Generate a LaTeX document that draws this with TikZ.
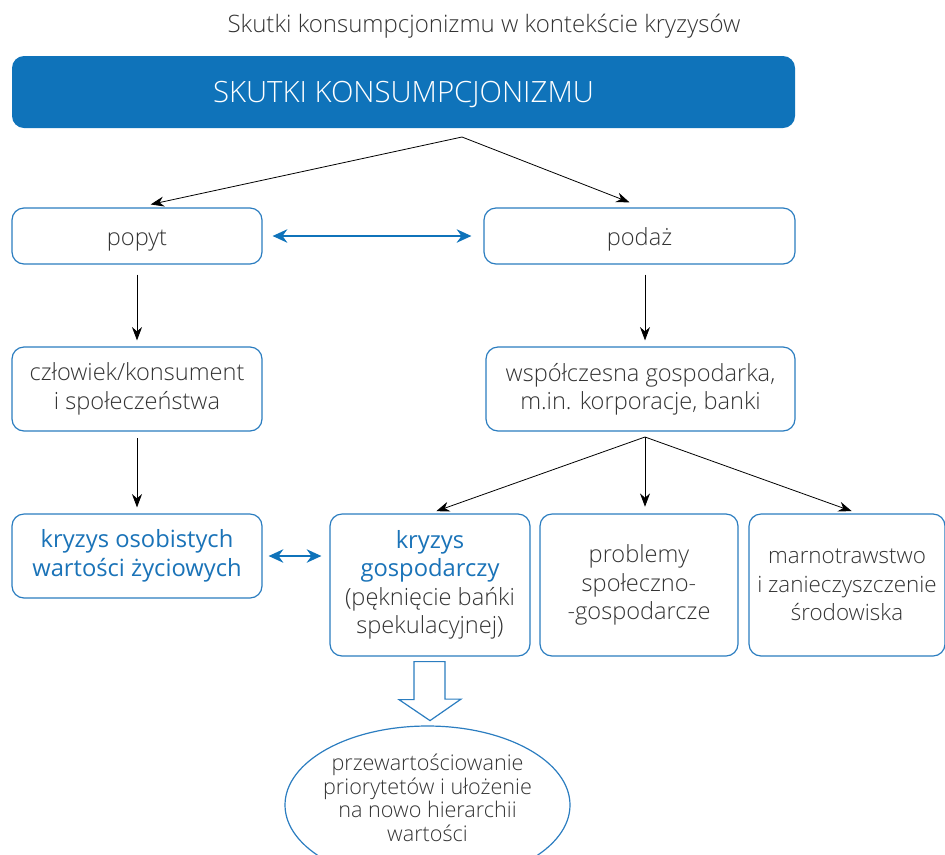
\documentclass[tikz,border=0pt]{standalone}
\usepackage{fontspec}
\setmainfont{Open Sans}
\newfontfamily\lightfont{Open Sans Light}
\usetikzlibrary{arrows.meta,shapes.geometric}
\definecolor{dblue}{HTML}{0F73BA}
\definecolor{bord}{HTML}{2B7DC0}
\definecolor{btext}{HTML}{1A73B8}
\definecolor{txt}{HTML}{333333}
\begin{document}
\begin{tikzpicture}[x=0.75pt,y=-0.75pt,
  box/.style={draw=bord, line width=0.9pt, rounded corners=9pt, fill=white, align=center,
    text=txt, font=\lightfont\fontsize{17.7}{21.3}\selectfont, inner sep=0pt},
  arr/.style={-{Stealth[length=10pt,width=7.5pt]}, line width=0.6pt, draw=black},
  dbl/.style={{Stealth[length=11pt,width=10pt]}-{Stealth[length=11pt,width=10pt]}, line width=1.8pt, draw=dblue}]
\useasboundingbox (0,0) rectangle (945,854);
\clip (0,0) rectangle (945,854);

\node[text=txt, font=\lightfont\fontsize{18}{21}\selectfont] (title) at (484,26) {Skutki konsumpcjonizmu w kontekście kryzysów};

\node[fill=dblue, rounded corners=9pt, minimum width=783*0.75pt, minimum height=72*0.75pt,
  text=white, font=\lightfont\fontsize{22}{26}\selectfont, inner sep=0pt,
  text height=15.7pt, text depth=0pt] (top) at (403.5,92) {SKUTKI KONSUMPCJONIZMU};

\node[box, text height=17pt, text depth=3.5pt, minimum width=250*0.75pt, minimum height=56*0.75pt] (popyt) at (137,236) {popyt};
\node[box, text height=17pt, text depth=3.5pt, minimum width=311*0.75pt, minimum height=56*0.75pt] (podaz) at (639.5,236) {podaż};
\node[box, minimum width=250*0.75pt, minimum height=84*0.75pt] (czl) at (137,389) {człowiek/konsument\\i społeczeństwa};
\node[box, minimum width=309*0.75pt, minimum height=84*0.75pt] (wsp) at (640.5,389) {współczesna gospodarka,\\m.in. korporacje, banki};
\node[box, text=btext, font=\fontsize{17.8}{21.3}\selectfont, minimum width=250*0.75pt, minimum height=84*0.75pt] (kos) at (137,556) {kryzys osobistych\\wartości życiowych};
\node[box, minimum width=200*0.75pt, minimum height=142*0.75pt] (kgos) at (430,585) {{\normalfont\fontsize{17.8}{21.3}\selectfont\textcolor{btext}{kryzys}}\\{\normalfont\fontsize{17.8}{21.3}\selectfont\textcolor{btext}{gospodarczy}}\\(pęknięcie bańki\\spekulacyjnej)};
\node[box, minimum width=198*0.75pt, minimum height=142*0.75pt] (prob) at (639,585) {problemy\\społeczno-\\-gospodarcze};
\node[box, font=\lightfont\fontsize{16.8}{21.3}\selectfont, minimum width=196*0.75pt, minimum height=142*0.75pt] (marn) at (847,585) {marnotrawstwo\\i zanieczyszczenie\\środowiska};

\node[align=center, text=txt, font=\lightfont\fontsize{16.2}{17.6}\selectfont, inner sep=0pt] (ell) at (427.5,798)
  {przewartościowanie\\priorytetów i ułożenie\\na nowo hierarchii\\wartości};
\draw[draw=bord, line width=0.9pt] ([yshift=-7*0.75pt]ell.center) ellipse [x radius=142.5*0.75pt, y radius=79*0.75pt];

% connectors
\coordinate (s1) at (462,137);
\draw[arr, shorten >=10.5pt] (s1) -- (popyt.north);
\draw[arr, shorten >=10.5pt] (s1) -- ([xshift=3*0.75pt]podaz.north);
\draw[dbl, shorten <=7.5pt, shorten >=9pt] (popyt.east) -- (podaz.west);
\draw[arr, shorten <=7.5pt, shorten >=4.5pt] (popyt.south) -- (czl.north);
\draw[arr, shorten <=7.5pt, shorten >=4.5pt] ([xshift=5.5*0.75pt]podaz.south) -- ([xshift=4.5*0.75pt]wsp.north);
\draw[arr, shorten <=5pt, shorten >=4.5pt] (czl.south) -- (kos.north);
\coordinate (s2) at (645,437);
\draw[arr, shorten >=5pt] (s2) -- (kgos.north);
\draw[arr, shorten >=5pt] (s2) -- (s2 |- prob.north);
\draw[arr, shorten >=5pt] (s2) -- ([xshift=11*0.75pt]marn.north);
\draw[dbl, shorten <=4.5pt, shorten >=6pt] (kos.east) -- (kos.east -| kgos.west);

% block arrow
\draw[draw=bord, line width=0.9pt, fill=white]
  ([xshift=-16*0.75pt, yshift=-5*0.75pt]kgos.south) -- ++(0,38) -- ++(-15,0)
  -- ([yshift=-64*0.75pt]kgos.south) -- ([xshift=31*0.75pt, yshift=-42.5*0.75pt]kgos.south)
  -- ++(-16,0) -- ([xshift=15*0.75pt, yshift=-5*0.75pt]kgos.south) -- cycle;
\end{tikzpicture}
\end{document}
